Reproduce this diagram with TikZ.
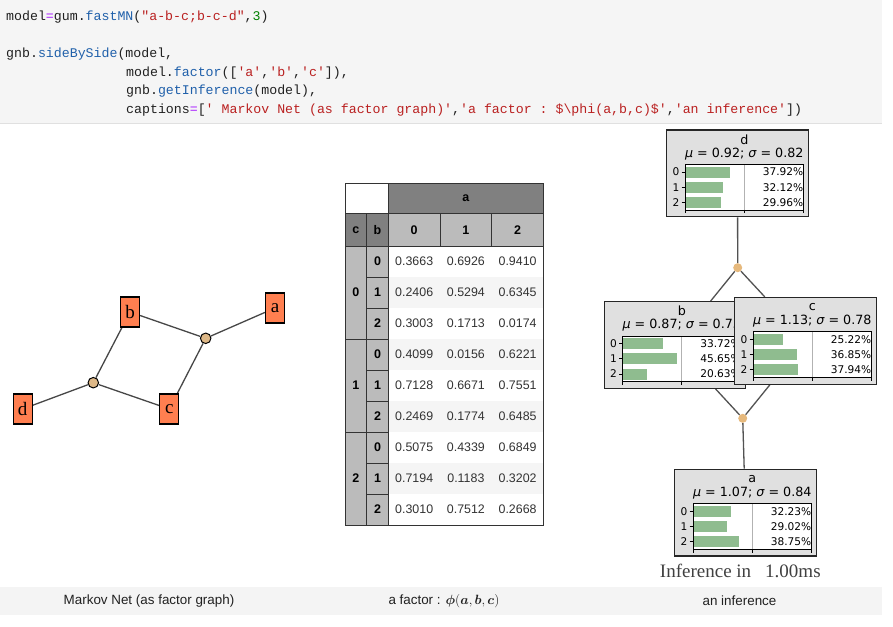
\RequirePackage{fix-cm}
\documentclass[tikz,border=0pt]{standalone}
\usepackage{fontspec}
\usepackage{bm}
\usepackage{tikz}
\setmonofont{Liberation Mono}
\newfontfamily\uifont{Liberation Sans}
\newfontfamily\mplfont{DejaVu Sans}
\newfontfamily\serifont{Liberation Serif}
\pgfdeclarelayer{bg}
\pgfsetlayers{bg,main}
\definecolor{codebg}{RGB}{245,245,245}
\definecolor{srcrule}{RGB}{224,224,224}
\definecolor{cop}{RGB}{170,34,255}
\definecolor{cfn}{RGB}{32,96,170}
\definecolor{cstr}{RGB}{186,33,33}
\definecolor{cnum}{RGB}{0,128,0}
\definecolor{mcoral}{RGB}{255,127,80}
\definecolor{mfactor}{RGB}{222,184,135}
\definecolor{hdrdark}{RGB}{128,128,128}
\definecolor{hdrlight}{RGB}{187,187,187}
\definecolor{rowgray}{RGB}{245,245,245}
\definecolor{infbg}{RGB}{224,224,224}
\definecolor{mbar}{RGB}{143,188,143}
\definecolor{ifactor}{RGB}{230,185,125}
\definecolor{capbg}{RGB}{244,244,244}
\tikzset{srcline/.style = {anchor=west, inner sep=0pt, text=black!87,
                           font=\ttfamily\fontsize{13.25}{15}\selectfont}}
\tikzset{gvar/.style = {draw, fill=mcoral, line width=1.2pt, inner sep=0pt,
                        minimum width=19pt, minimum height=30pt,
                        font=\serifont\fontsize{19}{19}\selectfont}}
\tikzset{gfac/.style = {circle, draw, fill=mfactor, line width=1pt,
                        inner sep=0pt, minimum size=10.5pt}}
\tikzset{gedge/.style = {draw=black!72, line width=1.3pt}}
\tikzset{tabcell/.style = {draw=black!80, line width=0.8pt}}
\tikzset{hdrtxt/.style = {font=\uifont\bfseries\fontsize{12.5}{14}\selectfont}}
\tikzset{numtxt/.style = {font=\uifont\fontsize{12.4}{14}\selectfont, text=black!80}}
\tikzset{infnode/.style = {draw=black!85, fill=infbg, line width=1.2pt, inner sep=0pt,
                           minimum width=141.5pt, minimum height=86.7pt}}
\tikzset{mpltxt/.style = {inner sep=0pt, font=\mplfont\fontsize{12.7}{14}\selectfont}}
\tikzset{pct/.style = {inner sep=0pt, font=\mplfont\fontsize{10.6}{12}\selectfont}}
\tikzset{axis/.style = {draw=black, line width=0.8pt}}
\tikzset{ifac/.style = {circle, fill=ifactor, inner sep=0pt, minimum size=9pt}}
\tikzset{iedge/.style = {draw=black!68, line width=1.3pt}}
\tikzset{captxt/.style = {font=\uifont\fontsize{13.4}{15}\selectfont, text=black!87}}

% box of the inference panel: name, centre, title, mu, sigma, three percentages
\newcommand{\infbox}[8]{%
  \node[infnode] (#1) at (#2) {};
  \begin{scope}[shift={(#1.north west)}]
    \fill[white] (19,35) rectangle (137.3,80.5);
    \draw[draw=black!30, line width=0.8pt] (78.15,35) -- (78.15,80.5);
    \foreach \p [count=\i from 0] in {#6,#7,#8} {
      \fill[mbar] (19,37.1+15.2*\i) rectangle ++(1.183*\p,11);
      \node[pct, anchor=east] at (137.3,42.6+15.2*\i) {\p\%};
      \draw[axis] (15.5,42.6+15.2*\i) -- (19,42.6+15.2*\i);
      \node[pct, anchor=east] at (13.5,42.6+15.2*\i) {\i};
    }
    \draw[axis] (19,35) rectangle (137.3,80.5);
    \foreach \t in {19,78.15,137.3} \draw[axis] (\t,80.5) -- (\t,84);
    \node[mpltxt] at (78.15,10) {#3};
    \node[mpltxt] at (78.15,24.3) {{\itshape μ} = #4; {\itshape σ} = #5};
  \end{scope}}

\begin{document}
\begin{tikzpicture}[x=1pt, y=-1pt]
  \useasboundingbox (0,0) rectangle (893,626);
  \begin{pgfonlayer}{bg}
    \fill[white] (0,0) rectangle (893,626);
  \end{pgfonlayer}

  % code cell
  \fill[codebg] (0,0) rectangle (882,122.7);
  \draw[srcrule] (0,122.7) -- (882,122.7);
  \node[srcline] (l1) at (6,17.5) {model\textcolor{cop}{=}gum.\textcolor{cfn}{fastMN}(\textcolor{cstr}{"a-b-c;b-c-d"},\textcolor{cnum}{3})};
  \node[srcline] (l2) at (6,54) {gnb.\textcolor{cfn}{sideBySide}(model,};
  \node[srcline] (l3) at (126,72.6) {model.\textcolor{cfn}{factor}([\textcolor{cstr}{'a'},\textcolor{cstr}{'b'},\textcolor{cstr}{'c'}]),};
  \node[srcline] (l4) at (126,91.2) {gnb.\textcolor{cfn}{getInference}(model),};
  \node[srcline] (l5) at (126,109.8) {captions\textcolor{cop}{=}[\textcolor{cstr}{' Markov Net (as factor graph)'},\textcolor{cstr}{'a factor : \$\textbackslash phi(a,b,c)\$'},\textcolor{cstr}{'an inference'}])};

  % Markov net as factor graph
  \node[gvar] (ga) at (275,308) {a};
  \node[gvar] (gb) at (130,312) {b};
  \node[gvar] (gc) at (169.3,409) {c};
  \node[gvar] (gd) at (22.7,409) {d};
  \node[gfac] (gf1) at (205.7,338.3) {};
  \node[gfac] (gf2) at (93.3,382.7) {};
  \begin{pgfonlayer}{bg}
    \foreach \u/\v in {gf1/ga, gf1/gb, gf1/gc, gf2/gb, gf2/gc, gf2/gd} {
      \draw[gedge] (\u) -- (\v);
    }
  \end{pgfonlayer}

  % factor table
  \draw[tabcell, fill=white] (345,183) rectangle (388.3,213.5);
  \draw[tabcell, fill=hdrdark] (388.3,183) rectangle (543.5,213.5);
  \node[hdrtxt] at (465.9,198.2) {a};
  \draw[tabcell, fill=hdrdark] (345,213.5) rectangle (366.7,246);
  \node[hdrtxt] at (355.85,229.7) {c};
  \draw[tabcell, fill=hdrdark] (366.7,213.5) rectangle (388.3,246);
  \node[hdrtxt] at (377.5,229.7) {b};
  \foreach \i in {0,1,2} {
    \draw[tabcell, fill=hdrlight] (388.3+51.73*\i,213.5) rectangle ++(51.73,32.5);
    \node[hdrtxt] at (414.2+51.73*\i,229.7) {\i};
  }
  \foreach \r/\va/\vb/\vc in {0/0.3663/0.6926/0.9410, 1/0.2406/0.5294/0.6345,
                              2/0.3003/0.1713/0.0174, 3/0.4099/0.0156/0.6221,
                              4/0.7128/0.6671/0.7551, 5/0.2469/0.1774/0.6485,
                              6/0.5075/0.4339/0.6849, 7/0.7194/0.1183/0.3202,
                              8/0.3010/0.7512/0.2668} {
    \ifodd\r\relax \fill[rowgray] (388.3,246+31*\r) rectangle ++(155.2,31); \fi
    \draw[tabcell, fill=hdrlight] (366.7,246+31*\r) rectangle ++(21.6,31);
    \pgfmathtruncatemacro\bidx{mod(\r,3)}
    \node[hdrtxt] at (377.5,261.5+31*\r) {\bidx};
    \node[numtxt] at (414.2,261.5+31*\r) {\va};
    \node[numtxt] at (465.9,261.5+31*\r) {\vb};
    \node[numtxt] at (517.6,261.5+31*\r) {\vc};
  }
  \foreach \k in {0,1,2} {
    \draw[tabcell, fill=hdrlight] (345,246+93*\k) rectangle ++(21.7,93);
    \node[hdrtxt] at (355.85,292.5+93*\k) {\k};
  }
  \draw[tabcell] (388.3,246) rectangle (543.5,525);

  % inference
  \infbox{id}{737.5,173.35}{d}{0.92}{0.82}{37.92}{32.12}{29.96}
  \infbox{ib}{675,345}{b}{0.87}{0.73}{33.72}{45.65}{20.63}
  \infbox{ic}{805.5,340.8}{c}{1.13}{0.78}{25.22}{36.85}{37.94}
  \infbox{ia}{745.5,512.65}{a}{1.07}{0.84}{32.23}{29.02}{38.75}
  \node[ifac] (if1) at (737.7,267.7) {};
  \node[ifac] (if2) at (742.7,418.3) {};
  \begin{pgfonlayer}{bg}
    \foreach \u/\v in {if1/id, if1/ib, if1/ic, if2/ib, if2/ic, if2/ia} {
      \draw[iedge] (\u) -- (\v);
    }
  \end{pgfonlayer}
  \node[font=\serifont\fontsize{19}{21}\selectfont, text=black!75] (itime) at (740.3,570.7)
    {Inference in\hspace{14pt}1.00ms};

  % captions
  \fill[capbg] (0,587.3) rectangle (882,615);
  \node[captxt] (cap1) at (149,601) {Markov Net (as factor graph)};
  \node[captxt] (cap2) at (444,601) {a factor : $\bm{\phi}(\bm{a},\bm{b},\bm{c})$};
  \node[captxt] (cap3) at (739.5,601) {an inference};
\end{tikzpicture}
\end{document}
